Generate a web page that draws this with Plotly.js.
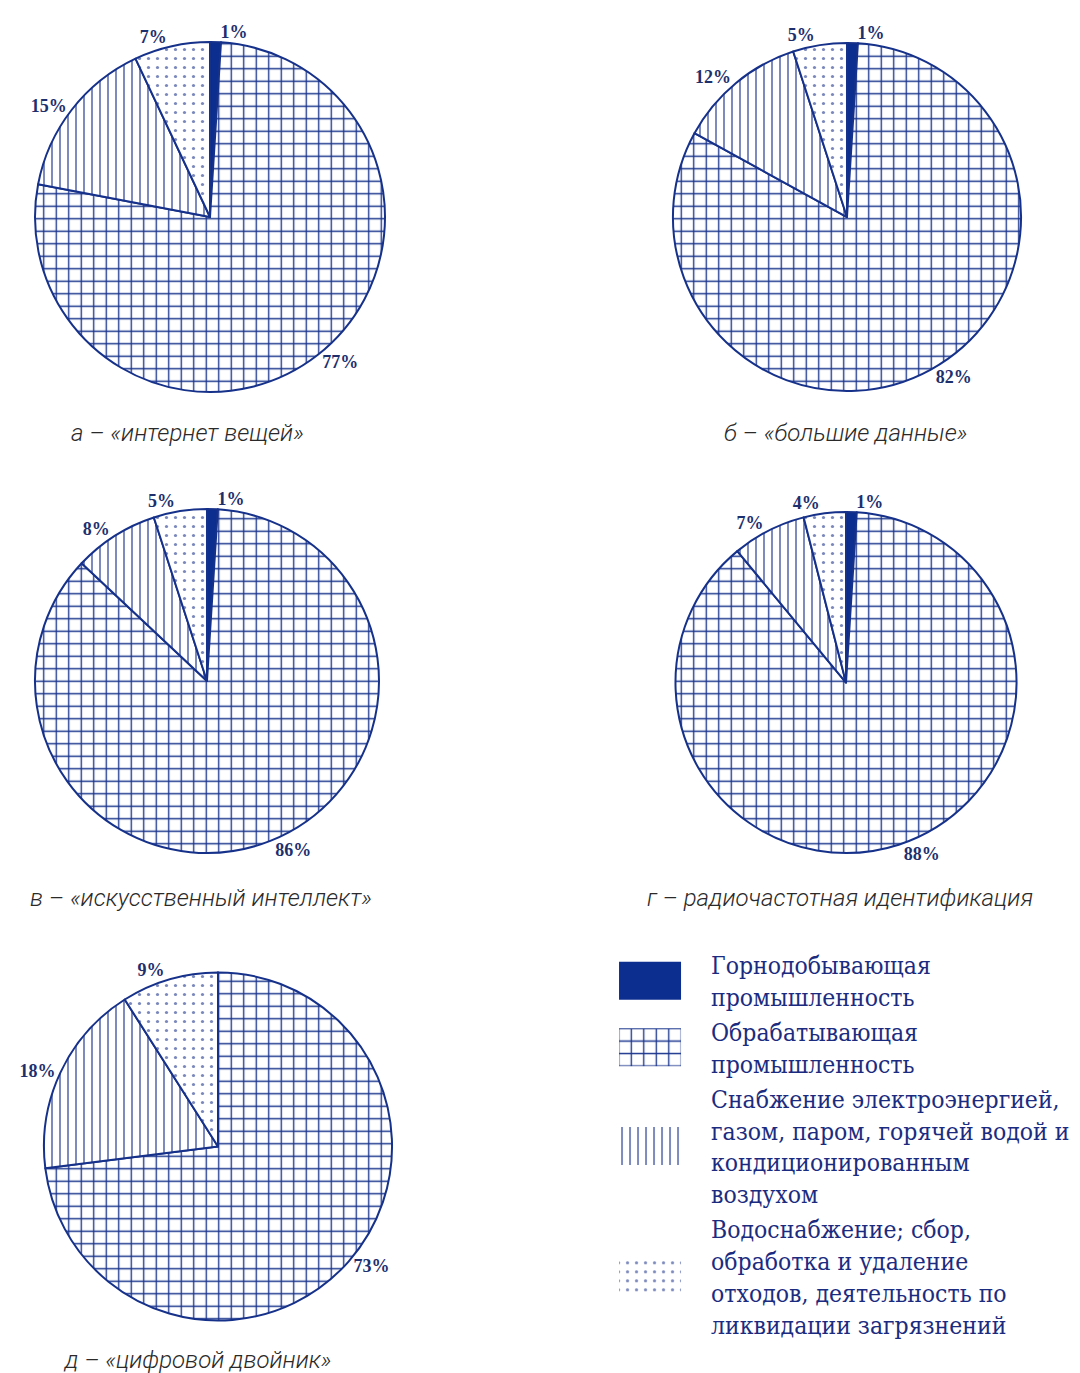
<!DOCTYPE html>
<html><head><meta charset="utf-8">
<script src="https://cdn.plot.ly/plotly-3.0.1.min.js"></script>
<style>html,body{margin:0;padding:0;background:#fff}#chart{width:1080px;height:1373px}#chart path.textline{display:none}</style>
</head><body><div id="chart"></div>
<script>
// Categories (legend labels)
const categories = [
  "Горнодобывающая<br>промышленность",
  "Обрабатывающая<br>промышленность",
  "Снабжение электроэнергией,<br>газом, паром, горячей водой и<br>кондиционированным<br>воздухом",
  "Водоснабжение; сбор,<br>обработка и удаление<br>отходов, деятельность по<br>ликвидации загрязнений"
];
// Shares, % (per technology)
const valuesA = [1, 77, 15, 7];   // интернет вещей
const valuesB = [1, 82, 12, 5];   // большие данные
const valuesC = [1, 86, 8, 5];    // искусственный интеллект
const valuesD = [1, 88, 7, 4];    // радиочастотная идентификация
const valuesE = [0, 73, 18, 9];   // цифровой двойник
const captions = [
  "а – «интернет вещей»",
  "б – «большие данные»",
  "в – «искусственный интеллект»",
  "г – радиочастотная идентификация",
  "д – «цифровой двойник»"
];

const NAVY = "#16318a";
const fills = ["#0c2e8f", "#ffffff", "#ffffff", "#ffffff"];
const patShape = ["", "+", "|", "."];
const patSize = [10, 12.5, 8, 9];
const patSolid = [0.3, 0.2, 0.16, 0.1];
const patFg = [NAVY, "#18338c", "#34489a", "#7a88bc"];

const domains = [
  {x:[0.0306,0.3583], y:[0.7145,0.9694]},
  {x:[0.6231,0.9454], y:[0.7145,0.9694]},
  {x:[0.0324,0.3509], y:[0.3787,0.6293]},
  {x:[0.6250,0.9417], y:[0.3787,0.6271]},
  {x:[0.0407,0.3630], y:[0.0379,0.2921]}
];
const allValues = [valuesA, valuesB, valuesC, valuesD, valuesE];

const traces = allValues.map((vals, i) => ({
  type: "pie",
  labels: categories,
  values: vals,
  sort: false,
  direction: "clockwise",
  rotation: 0,
  domain: domains[i],
  texttemplate: vals.map(v => v > 0 ? v + "%" : ""),
  textposition: "outside",
  textfont: {family: "Liberation Serif", size: 18, color: "#1e2f6e", weight: 700},
  hoverinfo: "skip",
  showlegend: i === 0,
  marker: {
    colors: fills,
    line: {color: NAVY, width: 2},
    pattern: {shape: patShape, size: patSize, solidity: patSolid, fgcolor: patFg, bgcolor: fills, fillmode: "replace"}
  }
}));

const capPos = [[0.174,0.6846],[0.783,0.6846],[0.186,0.346],[0.778,0.346],[0.183,0.0095]];
const annotations = captions.map((c, i) => ({
  text: c, xref: "paper", yref: "paper", x: capPos[i][0], y: capPos[i][1],
  xanchor: "center", yanchor: "middle", showarrow: false,
  font: {family: "Roboto", size: 24, color: "#2a2a2a", style: "italic", weight: 300}
}));

const layout = {
  width: 1080, height: 1373,
  margin: {l:0, r:0, t:0, b:0, autoexpand: false},
  paper_bgcolor: "#fff",
  showlegend: true,
  legend: {
    x: 0.5454, y: 0.3137, xanchor: "left", yanchor: "top",
    font: {family: "DejaVu Serif Condensed, Liberation Serif", size: 24.5, color: "#1b2c80"},
    itemwidth: 112, tracegroupgap: 0, itemclick: false, itemdoubleclick: false
  },
  annotations: annotations
};
Plotly.newPlot("chart", traces, layout, {staticPlot: true}).then(() => {
  // enlarge legend swatches to the reference's wide blocks
  document.querySelectorAll("#chart .legend path.legendpie").forEach(p => {
    p.setAttribute("d", "M31,19H-31V-19H31Z");
    p.style.strokeWidth = "0px";
  });
});
</script></body></html>
